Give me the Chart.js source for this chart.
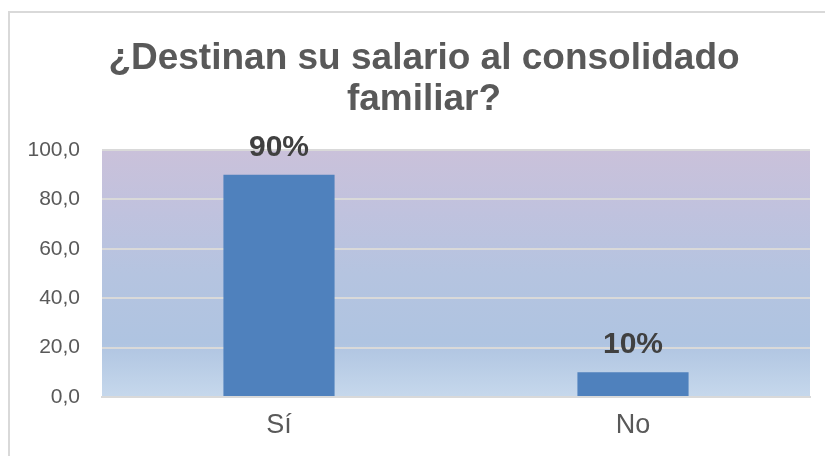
<!DOCTYPE html>
<html>
<head>
<meta charset="utf-8">
<script src="https://cdn.jsdelivr.net/npm/chart.js@4/dist/chart.umd.min.js"></script>
<style>
  html,body{margin:0;padding:0;background:#fff;}
  #frame{position:absolute;left:8px;top:11px;width:840px;height:470px;border:2px solid #d9d9d9;box-sizing:border-box;}
  #wrap{position:absolute;left:0;top:0;width:825px;height:456px;}
</style>
</head>
<body>
<div id="frame"></div>
<div id="wrap"><canvas id="c" width="825" height="456"></canvas></div>
<script>
const titleLines = ["¿Destinan su salario al consolidado", "familiar?"];
const categories = ["Sí", "No"];
const values = [90, 10];
const valueLabels = ["90%", "10%"];
const yTicks = [0, 20, 40, 60, 80, 100];

const bgPlugin = {
  id: 'plotBg',
  beforeDraw(chart) {
    const {ctx, chartArea: a} = chart;
    const g = ctx.createLinearGradient(0, a.top, 0, a.bottom);
    g.addColorStop(0, '#cac1da');
    g.addColorStop(0.25, '#c0c2de');
    g.addColorStop(0.5, '#b5c4e0');
    g.addColorStop(0.78, '#afc4e1');
    g.addColorStop(1, '#c6d8ec');
    ctx.save();
    ctx.fillStyle = g;
    ctx.fillRect(a.left, a.top, a.right - a.left, a.bottom - a.top);
    ctx.restore();
  }
};

const titlePlugin = {
  id: 'chartTitle',
  afterDraw(chart) {
    const {ctx} = chart;
    ctx.save();
    ctx.font = 'bold 37px "Liberation Sans", Arial, sans-serif';
    ctx.fillStyle = '#595959';
    ctx.textAlign = 'center';
    ctx.textBaseline = 'alphabetic';
    titleLines.forEach((t, i) => ctx.fillText(t, 424, 69 + i * 41));
    ctx.restore();
  }
};

const labelPlugin = {
  id: 'valLabels',
  afterDatasetsDraw(chart) {
    const {ctx} = chart;
    const meta = chart.getDatasetMeta(0);
    ctx.save();
    ctx.font = 'bold 30px "Liberation Sans", Arial, sans-serif';
    ctx.fillStyle = '#404040';
    ctx.textAlign = 'center';
    ctx.textBaseline = 'alphabetic';
    meta.data.forEach((bar, i) => {
      ctx.fillText(valueLabels[i], bar.x, bar.y - 19);
    });
    ctx.restore();
  }
};

new Chart(document.getElementById('c'), {
  type: 'bar',
  data: {
    labels: categories,
    datasets: [{
      data: values,
      backgroundColor: '#4f81bd',
      borderWidth: 0,
      categoryPercentage: 1.0,
      barPercentage: 0.314
    }]
  },
  options: {
    responsive: false,
    animation: false,
    devicePixelRatio: 1,
    layout: { padding: { left: 0, right: 15, top: 150, bottom: 0 } },
    plugins: {
      legend: { display: false },
      tooltip: { enabled: false },
      title: { display: false }
    },
    scales: {
      x: {
        grid: { display: false, drawTicks: false },
        border: { display: true, color: '#d9d9d9', width: 2 },
        ticks: {
          color: '#595959',
          font: { family: '"Liberation Sans", Arial, sans-serif', size: 27 },
          padding: 12
        },
        afterFit(s) { s.height = 59; }
      },
      y: {
        min: 0, max: 100,
        afterBuildTicks(s) { s.ticks = yTicks.map(v => ({value: v})); },
        grid: { color: '#d9d9d9', lineWidth: 2, drawTicks: false },
        border: { display: false },
        ticks: {
          color: '#595959',
          font: { family: '"Liberation Sans", Arial, sans-serif', size: 21 },
          padding: 22,
          callback: v => v.toFixed(1).replace('.', ',')
        },
        afterFit(s) { s.width = 102; }
      }
    }
  },
  plugins: [bgPlugin, titlePlugin, labelPlugin]
});
</script>
</body>
</html>
